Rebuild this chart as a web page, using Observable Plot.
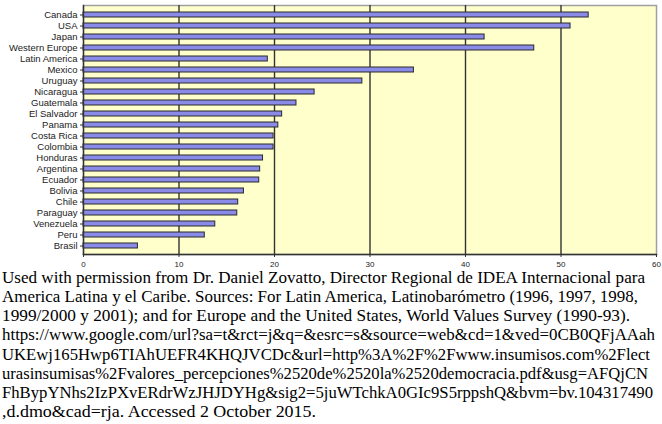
<!DOCTYPE html>
<html>
<head>
<meta charset="utf-8">
<script src="https://cdn.jsdelivr.net/npm/d3@7"></script>
<script src="https://cdn.jsdelivr.net/npm/@observablehq/plot@0.6"></script>
<style>
  html, body { margin: 0; padding: 0; background: #fff; }
  #chart svg { display: block; }
  #caption { font-family: "Liberation Serif", "Times New Roman", serif; font-size: 17px; line-height: 19.15px; color: #000; padding-left: 2px; margin-top: -1px; }
  #caption div { white-space: nowrap; }
  #caption span { display: inline-block; transform-origin: 0 0; }
</style>
</head>
<body>
<div id="chart"></div>
<div id="caption"></div>
<script>
const countries = ["Canada","USA","Japan","Western Europe","Latin America","Mexico","Uruguay","Nicaragua","Guatemala","El Salvador","Panama","Costa Rica","Colombia","Honduras","Argentina","Ecuador","Bolivia","Chile","Paraguay","Venezuela","Peru","Brasil"];
const values = [52.9,51.0,42.0,47.2,19.3,34.6,29.2,24.2,22.3,20.8,20.4,19.9,19.9,18.8,18.5,18.4,16.8,16.2,16.1,13.8,12.7,5.7];
const xTicks = [0,10,20,30,40,50,60];
const captionLines = [
  "Used with permission from Dr. Daniel Zovatto, Director Regional de IDEA Internacional para",
  "America Latina y el Caribe. Sources: For Latin America, Latinobarómetro (1996, 1997, 1998,",
  "1999/2000 y 2001); and for Europe and the United States, World Values Survey (1990-93).",
  "https://www.google.com/url?sa=t&rct=j&q=&esrc=s&source=web&cd=1&ved=0CB0QFjAAah",
  "UKEwj165Hwp6TIAhUEFR4KHQJVCDc&url=http%3A%2F%2Fwww.insumisos.com%2Flect",
  "urasinsumisas%2Fvalores_percepciones%2520de%2520la%2520democracia.pdf&usg=AFQjCN",
  "FhBypYNhs2IzPXvERdrWzJHJDYHg&sig2=5juWTchkA0GIc9S5rppshQ&bvm=bv.104317490",
  ",d.dmo&cad=rja. Accessed 2 October 2015."
];
// rendered widths of each caption line in the reference (layout only)
const captionWidths = [643, 636, 628, 653, 648, 646, 651, 314];

const data = countries.map((c, i) => ({country: c, value: values[i]}));

const chart = Plot.plot({
  width: 662,
  height: 269,
  marginTop: 5,
  marginBottom: 15,
  marginLeft: 83,
  marginRight: 6,
  style: {fontFamily: "'Liberation Sans', Arial, sans-serif", fontSize: "9px", background: "#fff", overflow: "visible"},
  x: {domain: [0, 60], ticks: xTicks, label: null},
  y: {domain: countries, label: null, paddingInner: 0.56, paddingOuter: 0.28, align: 0.5},
  marks: [
    Plot.frame({fill: "#ffffcc", stroke: "#a0a0a0", strokeWidth: 1.5}),
    Plot.gridX(xTicks.slice(1, -1), {stroke: "#333", strokeOpacity: 1, strokeWidth: 1.4}),
    Plot.barX(data, {y: "country", x: "value", fill: "#8a8ae8", stroke: "#2a2a2a", strokeWidth: 1}),
    Plot.frame({anchor: "left", stroke: "#333", strokeWidth: 1.4}),
    Plot.frame({anchor: "bottom", stroke: "#333", strokeWidth: 1.4}),
    Plot.axisX({ticks: xTicks, tickSize: 3, tickPadding: 4, fontSize: 8, stroke: "#333", fill: "#222"}),
    Plot.axisY({tickSize: 3, tickPadding: 3, fill: "#222", stroke: "#333", fontSize: 9.5, style: {letterSpacing: "0.3px"}})
  ]
});
document.getElementById("chart").appendChild(chart);

const cap = document.getElementById("caption");
captionLines.forEach((l, i) => {
  const d = document.createElement("div");
  const s = document.createElement("span");
  s.textContent = l;
  d.appendChild(s);
  cap.appendChild(d);
  const w = s.getBoundingClientRect().width;
  if (w > 0) s.style.transform = `scaleX(${captionWidths[i] / w})`;
});
</script>
</body>
</html>
